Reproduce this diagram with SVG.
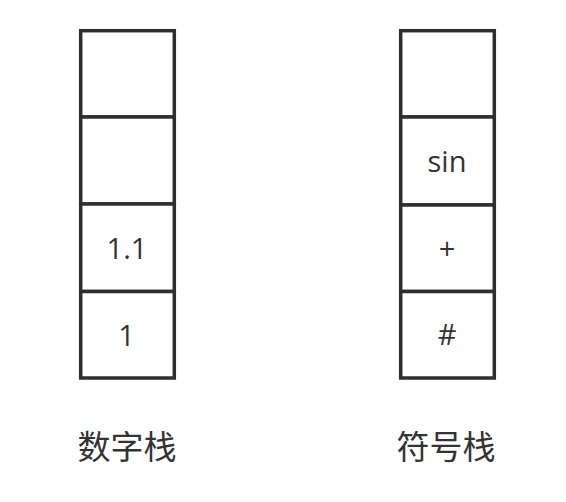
<svg xmlns="http://www.w3.org/2000/svg" width="566" height="502" viewBox="0 0 566 502">
<style>
.cell{fill:#fff;stroke:#2e2e2e;stroke-width:3.5}
.t{font-family:"Open Sans","Noto Sans",sans-serif;font-size:29px;fill:#333;text-anchor:middle}
.c{font-family:"Noto Sans CJK SC",sans-serif;font-size:33px;fill:#333;text-anchor:middle}
</style>
<rect width="566" height="502" fill="#fff"/>
<g id="num-stack">
<g id="num-cell-1"><rect class="cell" x="80.7" y="30.7" width="93.6" height="86.3"/></g>
<g id="num-cell-2"><rect class="cell" x="80.7" y="117" width="93.6" height="87"/></g>
<g id="num-cell-3"><rect class="cell" x="80.7" y="204" width="93.6" height="87.5"/><text class="t" x="127" y="258.5">1.1</text></g>
<g id="num-cell-4"><rect class="cell" x="80.7" y="291.5" width="93.6" height="86.5"/><text class="t" x="126.5" y="346">1</text></g>
<text id="num-label" class="c" x="127" y="459">数字栈</text>
</g>
<g id="op-stack">
<g id="op-cell-1"><rect class="cell" x="400.7" y="30.7" width="93.6" height="86.3"/></g>
<g id="op-cell-2"><rect class="cell" x="400.7" y="117" width="93.6" height="88"/><text class="t" x="447" y="172">sin</text></g>
<g id="op-cell-3"><rect class="cell" x="400.7" y="205" width="93.6" height="86.5"/><text class="t" x="447" y="259">+</text></g>
<g id="op-cell-4"><rect class="cell" x="400.7" y="291.5" width="93.6" height="86.5"/><text class="t" x="447" y="345">#</text></g>
<text id="op-label" class="c" x="446" y="459">符号栈</text>
</g>
<g id="connectors"/>
</svg>
